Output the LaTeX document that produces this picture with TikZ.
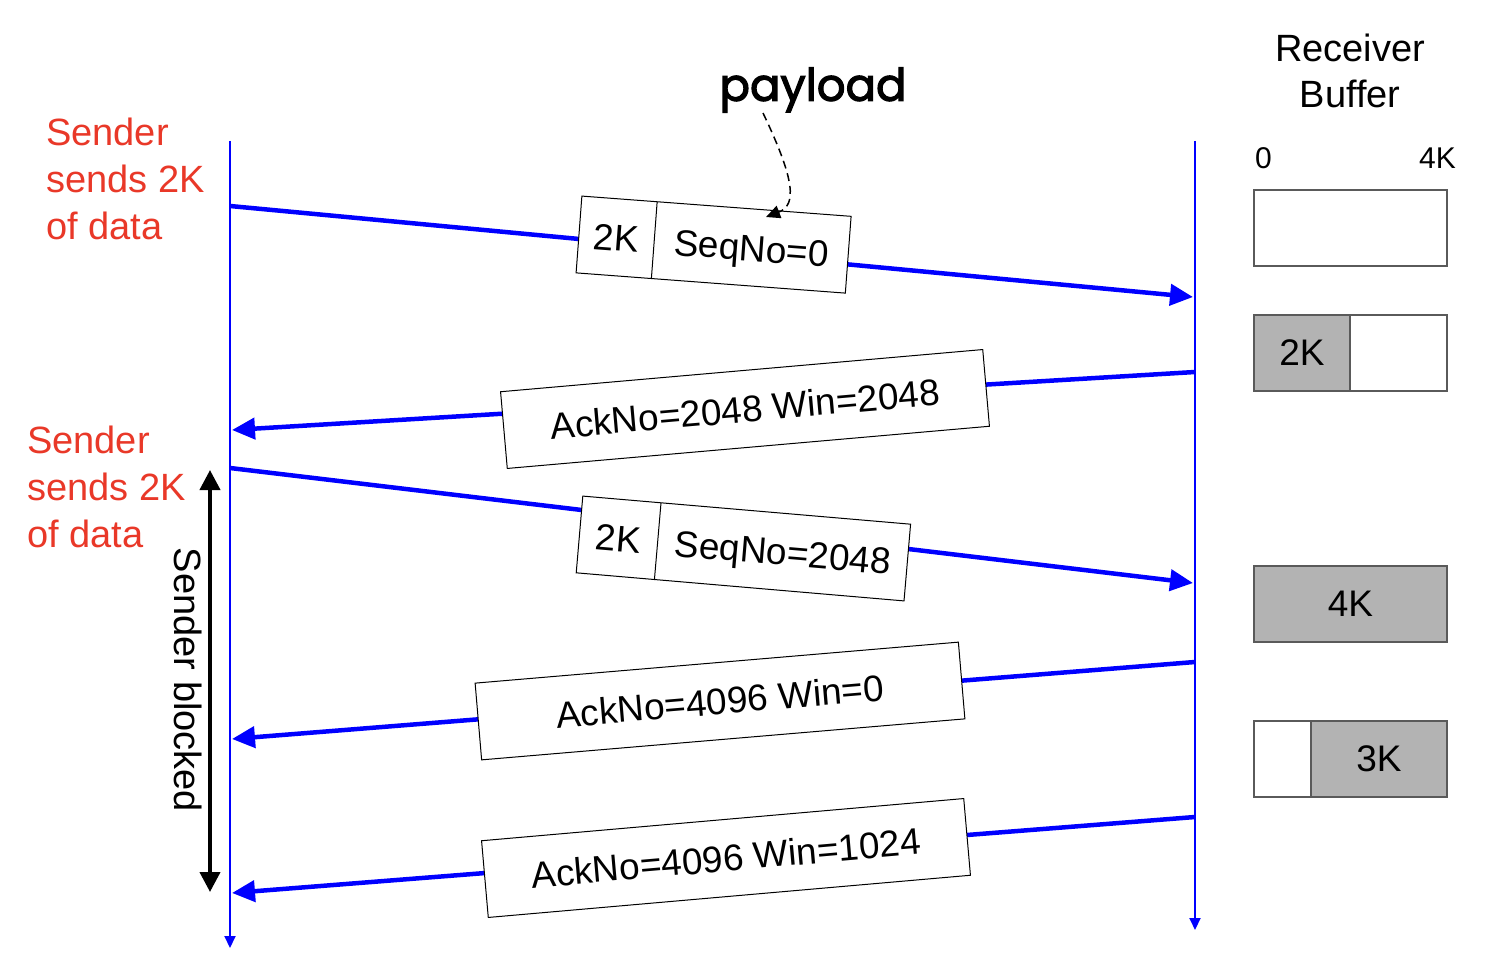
\documentclass[tikz,border=0pt]{standalone}
\usepackage{fontspec}
\setmainfont{Liberation Sans}
\newfontfamily\payfont[FakeBold=2.5]{Poppins}
\usetikzlibrary{arrows.meta,shapes.multipart}
\definecolor{sred}{RGB}{233,56,40}
\definecolor{lblue}{RGB}{0,0,255}
\definecolor{bgray}{RGB}{179,179,179}
\definecolor{bline}{RGB}{90,90,90}
\newcommand{\cellbox}[2]{\makebox[#1pt]{\rule[-25pt]{0pt}{77pt}#2}}
\begin{document}
\begin{tikzpicture}[x=1pt,y=-1pt,
  timeline/.style={lblue, line width=2pt, -{Triangle[length=12pt,width=11pt]}},
  msg/.style={lblue, line width=4.5pt, -{Triangle[length=23pt,width=21pt]}},
  pkt/.style={draw=black, line width=1pt, fill=white, minimum height=77pt, inner sep=0pt, font=\fontsize{37}{44}\selectfont},
  splitpkt/.style={draw=black, line width=1pt, fill=white, inner sep=0pt, rectangle split, rectangle split horizontal, rectangle split parts=2, font=\fontsize{37}{44}\selectfont},
  redtxt/.style={sred, align=left, inner sep=0pt, anchor=north west, font=\fontsize{38}{47}\selectfont},
  blktxt/.style={black, inner sep=0pt, font=\fontsize{38}{46}\selectfont},
  buf/.style={draw=bline, line width=1.2pt, inner sep=0pt, minimum height=76pt, font=\fontsize{37}{44}\selectfont},
  blocked/.style={black, line width=4pt, {Triangle[length=20pt,width=20pt]}-{Triangle[length=20pt,width=20pt]}},
  payarrow/.style={black, line width=1.5pt, dash pattern=on 8pt off 5pt, -{Triangle[length=14pt,width=13pt]}}
]
\useasboundingbox (0,0) rectangle (1486,976);

% timelines
\coordinate (lt) at (230,141);
\coordinate (lb) at (230,948);
\coordinate (rt) at (1195,141);
\coordinate (rb) at (1195,930);
\draw[timeline] (lt) -- (lb);
\draw[timeline] (rt) -- (rb);

% message end points
\coordinate (s1) at (230,206);  \coordinate (r1) at (1193,297);
\coordinate (r2) at (1195,372); \coordinate (s2) at (232,430);
\coordinate (s3) at (230,468);  \coordinate (r3) at (1193,583);
\coordinate (r4) at (1195,662); \coordinate (s4) at (232,739);
\coordinate (r5) at (1195,817); \coordinate (s5) at (232,893);
\draw[msg] (s1) -- (r1);
\draw[msg] (r2) -- (s2);
\draw[msg] (s3) -- (r3);
\draw[msg] (r4) -- (s4);
\draw[msg] (r5) -- (s5);

% packets
\node[splitpkt, rotate=-4.3] (p1) at (713.6,244.6) {\cellbox{75}{2K}\nodepart{two}\cellbox{194}{SeqNo=0}};
\node[pkt, rotate=5, minimum width=484pt] (a1) at (745,409) {AckNo=2048 Win=2048};
\node[splitpkt, rotate=-4.9] (p2) at (743.4,548.5) {\cellbox{78}{2K}\nodepart{two}\cellbox{250}{SeqNo=2048}};
\node[pkt, rotate=4.85, minimum width=485pt] (a2) at (720,701) {AckNo=4096 Win=0};
\node[pkt, rotate=5, minimum width=484pt] (a3) at (726,858) {AckNo=4096 Win=1024};

% payload label
\node[inner sep=0pt, font=\payfont\fontsize{45}{54}\selectfont] (pl) at (813,90) {payload};
\coordinate (pls) at (763,113);
\coordinate (ptip) at (766,217);
\draw[payarrow] (pls) .. controls (795,180) and (797,205) .. (ptip);

% sender texts
\node[redtxt] (snd1) at (46,118) {Sender\\sends 2K\\of data};
\node[redtxt] (snd2) at (27,426) {Sender\\sends 2K\\of data};

% sender blocked
\coordinate (bt) at (210,470);
\coordinate (bb) at (210,892);
\draw[blocked] (bt) -- (bb);
\node[blktxt, rotate=-90] (sb) at (188,680) {Sender blocked};

% receiver buffer
\node[blktxt, align=center, anchor=north] (rbuf) at (1350,34) {Receiver\\Buffer};
\node[inner sep=0pt, anchor=base west, font=\fontsize{30}{36}\selectfont] (z0) at (1255,169) {0};
\node[inner sep=0pt, anchor=base east, font=\fontsize{30}{36}\selectfont] (z4) at (1456,169) {4K};

\node[buf, fill=white, minimum width=193pt] (b1) at (1350.5,228) {};
\node[buf, fill=bgray, minimum width=96pt] (b2a) at (1302,353) {2K};
\node[buf, fill=white, minimum width=97pt] (b2b) at (1398.5,353) {};
\node[buf, fill=bgray, minimum width=193pt] (b3) at (1350.5,604) {4K};
\node[buf, fill=white, minimum width=57pt] (b4a) at (1282.5,759) {};
\node[buf, fill=bgray, minimum width=136pt] (b4b) at (1379,759) {3K};
\end{tikzpicture}
\end{document}
